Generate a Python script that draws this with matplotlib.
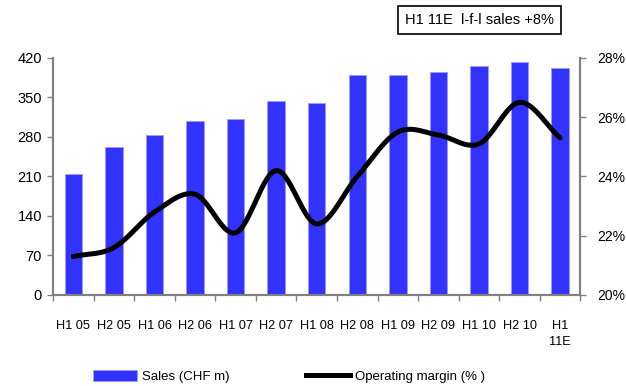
import numpy as np
import matplotlib
matplotlib.use("Agg")
import matplotlib.pyplot as plt
from matplotlib.lines import Line2D
from matplotlib.patches import Patch

plt.rcParams['font.family'] = ['Liberation Sans', 'DejaVu Sans']

periods = ["H1 05", "H2 05", "H1 06", "H2 06", "H1 07", "H2 07", "H1 08",
           "H2 08", "H1 09", "H2 09", "H1 10", "H2 10", "H1\n11E"]
sales = [215, 262, 283, 308, 311, 343, 340, 389, 389, 396, 406, 413, 403]
margin = [21.3, 21.6, 22.8, 23.4, 22.1, 24.2, 22.4, 24.0, 25.5, 25.4, 25.1, 26.5, 25.3]


def smooth(x, y, n=30):
    # Catmull-Rom curve through the points, like a spreadsheet "smoothed line"
    x = np.asarray(x, float)
    y = np.asarray(y, float)
    px = np.concatenate([[2 * x[0] - x[1]], x, [2 * x[-1] - x[-2]]])
    py = np.concatenate([[2 * y[0] - y[1]], y, [2 * y[-1] - y[-2]]])
    xs, ys = [], []
    t = np.linspace(0, 1, n, endpoint=False)
    for i in range(1, len(px) - 2):
        for arr, out in ((px, xs), (py, ys)):
            p0, p1, p2, p3 = arr[i - 1:i + 3]
            out.extend(0.5 * ((2 * p1) + (-p0 + p2) * t
                              + (2 * p0 - 5 * p1 + 4 * p2 - p3) * t ** 2
                              + (-p0 + 3 * p1 - 3 * p2 + p3) * t ** 3))
    xs.append(x[-1])
    ys.append(y[-1])
    return np.array(xs), np.array(ys)


grey = '#808080'
blue = '#3333ff'
fig = plt.figure(figsize=(6.26, 3.86), dpi=100)
ax = fig.add_axes([0.0847, 0.2358, 0.8425, 0.614])
x = np.arange(len(periods))

ax.bar(x, sales, width=0.43, color=blue, edgecolor='#9a9aff', linewidth=0.6, zorder=2)
ax.set_xlim(-0.5, len(periods) - 0.5)
ax.set_ylim(0, 420)
ax.set_yticks(range(0, 421, 70))
ax.set_xticks(x)
ax.set_xticklabels(periods, fontsize=9.2, va='top', linespacing=1.45)
ax.set_xticks(np.arange(-0.5, len(periods), 1), minor=True)
ax.tick_params(axis='x', which='major', length=0, pad=18)
ax.tick_params(axis='x', which='minor', length=4, color=grey, width=1)
ax.tick_params(axis='y', labelsize=10.5, length=4, color=grey, width=1, pad=4)

ax2 = ax.twinx()
mx, my = smooth(x, margin)
ax2.plot(mx, my, color='black', linewidth=3.6, solid_capstyle='round', zorder=3)
ax2.set_ylim(20, 28)
ax2.set_yticks(range(20, 29, 2))
ax2.set_yticklabels([f"{v}%" for v in range(20, 29, 2)])
ax2.tick_params(axis='y', labelsize=10, length=4, color=grey, width=1, pad=8)

for a in (ax, ax2):
    a.spines['top'].set_visible(False)
    for s in ('left', 'right', 'bottom'):
        a.spines[s].set_color(grey)
        a.spines[s].set_linewidth(1.5)

fig.text(0.766, 0.948, "H1 11E  l-f-l sales +8%", fontsize=10.5, ha='center', va='center',
         bbox=dict(boxstyle='square,pad=0.5', facecolor='white', edgecolor='black', linewidth=1.2))

handles = [Patch(facecolor=blue, edgecolor='#9a9aff', linewidth=0.6),
           Line2D([0], [0], color='black', linewidth=3.6)]
fig.legend(handles, ["Sales (CHF m)", "Operating margin (% )"], loc='center',
           bbox_to_anchor=(0.462, 0.025), ncol=2, frameon=False, fontsize=9.5,
           columnspacing=5.8, handlelength=3.3, handleheight=0.9, handletextpad=0.4,
           borderaxespad=0)

fig.savefig("out.png", dpi=100)
